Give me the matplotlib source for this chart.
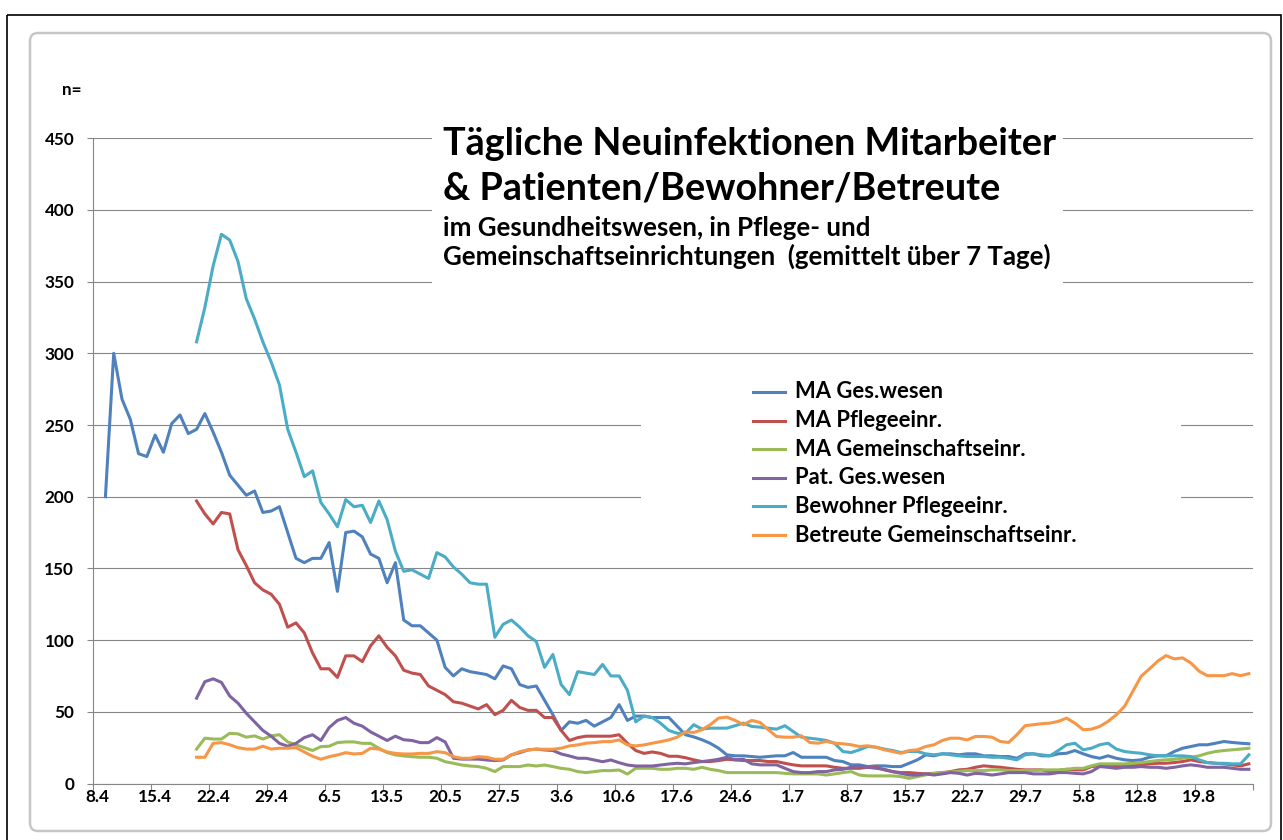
import numpy as np
import pandas as pd
import matplotlib
matplotlib.use("Agg")
import matplotlib.pyplot as plt
from matplotlib.patches import Rectangle, FancyBboxPatch
from matplotlib.lines import Line2D

plt.rcParams['font.family'] = ['Lato', 'DejaVu Sans']

# categories: one per day, 8.4. to 25.8.
dates = pd.date_range("2020-04-08", "2020-08-25", freq="D")
date_labels = [f"{d.day}.{d.month}" for d in dates]

# series values (7-day mean), each list ends on the last date
ma_ges = [200, 300, 268, 254, 230, 228, 243, 231, 251, 257,
          244, 247, 258, 245, 231, 215, 208, 201, 204, 189,
          190, 193, 175, 157, 154, 157, 157, 168, 134, 175,
          176, 172, 160, 157, 140, 154, 114, 110, 110, 105,
          100, 81, 75, 80, 78, 77, 76, 73, 82, 80,
          69, 67, 68, 58, 48, 37, 43, 42, 44, 40,
          43, 46, 55, 44, 47, 47, 46, 46, 46, 40,
          34, 32.5, 30.5, 28, 24.6, 20, 19.3, 19.3, 18.8, 18.3,
          18.8, 19.3, 19.3, 21.6, 18.3, 18.3, 18.3, 18.3, 16, 15.3,
          13, 13, 11.8, 12.3, 12.3, 11.8, 11.8, 14.1, 16.5, 20,
          19.3, 20.7, 20.7, 20, 20.7, 20.7, 19.3, 19.3, 18.8, 18.8,
          17.6, 20.7, 20.7, 19.3, 19.3, 20.7, 21.1, 23, 20.7, 18.8,
          17.6, 19.3, 17.6, 16.5, 16, 16.5, 18.3, 19.3, 19.3, 22.3,
          24.6, 25.8, 27, 27, 28.1, 29.3, 28.6, 28.1, 27.7]

ma_pflege = [197, 188, 181, 189, 188, 163, 152, 140, 135, 132,
             125, 109, 112, 105, 91, 80, 80, 74, 89, 89,
             85, 96, 103, 95, 89, 79, 77, 76, 68, 65,
             62, 57, 56, 54, 52, 55, 48, 51, 58, 53,
             51, 51, 46, 46, 37, 30, 32, 33, 33, 33,
             33, 34, 28, 23, 21, 22, 21, 19, 19, 18,
             16.5, 15.3, 15.3, 16, 16.9, 16.5, 16, 16, 16, 15.3,
             15.3, 14.1, 13, 12.3, 12.3, 12.3, 12.3, 11.3, 10.6, 10.6,
             10.6, 11.3, 11.3, 9.5, 8.3, 7.6, 7.6, 7.1, 6.7, 7.1,
             7.6, 8.3, 9.5, 9.9, 11.3, 12.3, 11.8, 11.3, 10.6, 9.9,
             9.5, 9.5, 9.5, 8.3, 9, 9.9, 9.5, 9.5, 11.8, 12.3,
             11.8, 12.3, 13, 13, 13, 13.7, 14.1, 14.1, 14.6, 15.3,
             16.5, 15.3, 14.6, 14.1, 13.7, 13, 12.3, 13.7]

ma_gemein = [24, 31.6, 31, 31, 35, 34.6, 32.3, 33.2, 31, 33.2,
             34, 29, 27, 25, 23, 25.7, 26, 28.5, 29, 29,
             28, 28, 24.6, 21.5, 20, 19.2, 18.7, 18.3, 18.3, 17.6,
             15.2, 14.1, 12.9, 12.2, 11.8, 10.6, 8.3, 11.8, 11.8, 11.8,
             12.9, 12.2, 12.9, 11.8, 10.6, 9.9, 8.3, 7.6, 8.3, 9,
             9, 9.4, 6.6, 10.6, 10.6, 10.6, 9.9, 9.9, 10.6, 10.6,
             9.9, 11.3, 9.9, 9, 7.6, 7.6, 7.6, 7.6, 7.6, 7.6,
             7.6, 7.1, 6.7, 6.7, 6.7, 6.7, 5.9, 6.7, 7.6, 8.3,
             5.9, 5.3, 5.3, 5.3, 5.3, 4.8, 3.6, 4.8, 6, 7,
             7.5, 8, 8.5, 9, 9, 9, 9.5, 9.5, 9, 9,
             9, 9, 9.5, 9.5, 9.5, 9.9, 10.6, 10.6, 12.3, 13.7,
             13.7, 13.7, 13.7, 14.1, 14.6, 15.3, 16, 16.5, 16.9, 17.6,
             18.3, 19.3, 21.1, 22.3, 23, 23.5, 24, 24.6]

pat_ges = [59.5, 71, 73, 70.5, 61, 56, 49, 43, 37, 33,
           28, 26, 28, 32, 34, 30, 39, 44, 46, 42,
           40, 36, 33, 30, 33, 30.5, 30, 28.5, 28.5, 32,
           29, 17.6, 17, 17, 17, 16.4, 16, 16.4, 20, 21.5,
           23.4, 24, 23.4, 23, 20.6, 19.2, 17.6, 17.6, 16.4, 15.2,
           16.4, 14.5, 12.9, 12.2, 12.2, 12.2, 12.9, 13.6, 14.1, 13.7,
           14.6, 15.3, 16, 16.9, 18.3, 16.5, 16.9, 13.7, 13, 13,
           13, 10.6, 8.3, 7.6, 7.6, 8.3, 8.3, 9.5, 9.9, 11.3,
           11.8, 11.3, 10.6, 9.9, 8.3, 7.1, 5.9, 5.9, 6.7, 5.9,
           6.7, 7.6, 7.1, 5.9, 7.1, 6.7, 5.9, 6.7, 7.6, 7.6,
           7.6, 6.7, 6.7, 6.7, 7.6, 7.6, 7.1, 6.7, 8.3, 11.8,
           11.3, 10.6, 11.3, 11.3, 11.8, 11.3, 11.3, 10.6, 11.3, 12.3,
           13, 12.3, 11.3, 11.3, 11.3, 10.6, 9.9, 9.9]

bew_pflege = [308, 332, 361, 383, 379, 364, 338, 324, 308, 294,
              278, 247, 231, 214, 218, 196, 188, 179, 198, 193,
              194, 182, 197, 184, 162, 148, 149, 146, 143, 161,
              158, 151, 146, 140, 139, 139, 102, 111, 114, 109,
              103, 99, 81, 90, 69, 62, 78, 77, 76, 83,
              75, 75, 65, 43, 47, 46, 42, 37, 35, 35,
              41, 38, 38.6, 38.6, 38.6, 40.3, 42.1, 39.8, 39.3, 38.6,
              37.9, 40.3, 36.3, 32.3, 31.6, 30.9, 30, 28.1, 22.3, 21.6,
              23.5, 25.8, 25.3, 24, 23, 21.6, 22.3, 22.3, 20.7, 20,
              20.7, 20, 19.3, 18.8, 18.8, 18.8, 18.3, 18.3, 17.6, 16.5,
              20, 20.7, 20, 19.3, 23, 27, 28.1, 23.5, 24.6, 27,
              28.1, 24, 22.3, 21.6, 21.1, 20, 19.3, 19.3, 19.3, 19.3,
              18.8, 16.5, 14.6, 14.1, 14.1, 13.7, 13.7, 20]

betr_gemein = [18.3, 18.3, 28, 28.5, 27, 25, 24, 24, 26, 24,
               24.6, 24.6, 25, 22, 19, 16.9, 18.7, 19.9, 21.5, 20.6,
               21, 24.6, 24, 22, 21, 20.6, 20.6, 21, 21, 22.2,
               21.5, 18.7, 17.6, 17.6, 18.7, 18.3, 16.9, 16.9, 19.9, 22.2,
               23.4, 23.9, 23.9, 23.9, 24.6, 26.2, 26.9, 28.1, 28.5, 29.2,
               29.2, 30.4, 26.9, 26.2, 26.9, 28.1, 29.2, 30.4, 32.3, 36,
               35.6, 37.5, 41, 45.6, 46.3, 44, 41, 44, 42.6, 37.5,
               32.8, 32.3, 32.3, 33.3, 28.6, 28.1, 29.3, 28.1, 27.7, 27,
               25.8, 26.3, 25.3, 23.5, 22.3, 21.1, 23, 23.5, 25.8, 27,
               30, 31.6, 31.6, 30.4, 32.8, 32.8, 32.3, 29.3, 28.6, 34,
               40.3, 41, 41.7, 42.1, 43.3, 45.6, 42.1, 37.5, 37.9, 39.8,
               43.3, 47.9, 53.8, 64.3, 74.8, 79.9, 85.3, 89.2, 86.9, 87.6,
               84.1, 78.3, 75.2, 75.2, 75.2, 76.6, 75.2, 76.6]

series_names = ["MA Ges.wesen", "MA Pflegeeinr.", "MA Gemeinschaftseinr.",
                "Pat. Ges.wesen", "Bewohner Pflegeeinr.", "Betreute Gemeinschaftseinr."]
series_vals = [ma_ges, ma_pflege, ma_gemein, pat_ges, bew_pflege, betr_gemein]
colors = ["#4F81BD", "#C0504D", "#9BBB59", "#8064A2", "#4BACC6", "#F79646"]

W, H = 1283, 840
fig = plt.figure(figsize=(W / 100, H / 100), dpi=100)
fig.patch.set_facecolor("white")

# background layer in pixel coords: outer black frame + grey rounded chart border
bg = fig.add_axes([0, 0, 1, 1], zorder=0)
bg.set_xlim(0, W); bg.set_ylim(H, 0); bg.axis("off")
bg.add_patch(Rectangle((7, 15), 1274, 840, fill=False, edgecolor="black", lw=1.2))
bg.add_patch(FancyBboxPatch((30, 33), 1241, 798, boxstyle="round,pad=0,rounding_size=8",
                            fill=False, edgecolor="#c6c6c6", lw=1.8))

# plot area
x0, x1, ytop, ybot = 93, 1253, 138.2, 783.5
ax = fig.add_axes([x0 / W, 1 - ybot / H, (x1 - x0) / W, (ybot - ytop) / H], zorder=1)
ax.patch.set_alpha(0)
n = len(dates)
for vals, name, col in zip(series_vals, series_names, colors):
    start = n - len(vals)
    xs = np.arange(start, n) + 0.5
    ax.plot(xs, vals, color=col, lw=2.2, label=name, solid_joinstyle="round")

ax.set_xlim(0, n)
ax.set_ylim(0, 450)
ax.set_yticks(np.arange(0, 451, 50))
ax.set_xticks(np.arange(0, n + 1, 7))
ax.set_xticks(np.arange(0, n, 7) + 0.5, minor=True)
ax.set_xticklabels([], minor=False)
ax.set_xticklabels([date_labels[i] for i in range(0, n, 7)], minor=True)
ax.grid(axis="y", color="#868686", lw=0.8)
ax.set_axisbelow(True)
for s in ["top", "right"]:
    ax.spines[s].set_visible(False)
for s in ["left", "bottom"]:
    ax.spines[s].set_color("#868686")
    ax.spines[s].set_linewidth(0.8)
ax.tick_params(axis="both", which="major", color="#868686", width=0.8, length=4.5, direction="out")
ax.tick_params(axis="x", which="minor", length=0, pad=4)
ax.tick_params(axis="y", pad=9)

# overlay layer: title box and legend box
ov = fig.add_axes([0, 0, 1, 1], zorder=2)
ov.set_xlim(0, W); ov.set_ylim(H, 0); ov.axis("off")
ov.patch.set_alpha(0)
ov.add_patch(Rectangle((432, 112), 631, 186, facecolor="white", edgecolor="none"))
ov.add_patch(Rectangle((641, 372), 540, 180, facecolor="white", edgecolor="none"))

r = fig.canvas.get_renderer()


def fit(t, target):
    w = t.get_window_extent(r).width
    t.set_fontsize(t.get_fontsize() * target / w)
    return t.get_fontsize()


t1 = ov.text(443, 155, "Tägliche Neuinfektionen Mitarbeiter", fontsize=20, fontweight="bold", va="baseline")
fs_big = fit(t1, 614)
ov.text(443, 200, "& Patienten/Bewohner/Betreute", fontsize=fs_big, fontweight="bold", va="baseline")
t4 = ov.text(443, 265, "Gemeinschaftseinrichtungen  (gemittelt über 7 Tage)", fontsize=12,
             fontweight="bold", va="baseline")
fs_small = fit(t4, 600)
ov.text(443, 236, "im Gesundheitswesen, in Pflege- und", fontsize=fs_small, fontweight="bold", va="baseline")

# legend
leg_y = np.linspace(392, 535, len(series_names))
probe = ov.text(795, 0, series_names[-1], fontsize=11, fontweight="bold")
fs_leg = fit(probe, 280)
probe.remove()
for yy, name, col in zip(leg_y, series_names, colors):
    ov.add_line(Line2D([753, 785], [yy, yy], color=col, lw=2.2))
    ov.text(795, yy, name, fontsize=fs_leg, fontweight="bold", va="center")

# tick label size from "450" width
probe = ov.text(0, 0, "450", fontsize=10, fontweight="bold")
fs_tick = fit(probe, 30)
probe.remove()
for lab in ax.get_yticklabels() + ax.get_xticklabels(minor=True):
    lab.set_fontsize(fs_tick)
    lab.set_fontweight("bold")

ov.text(72, 90, "n=", fontsize=fs_tick, fontweight="bold", ha="center", va="center")

fig.savefig("out.png", dpi=100)
